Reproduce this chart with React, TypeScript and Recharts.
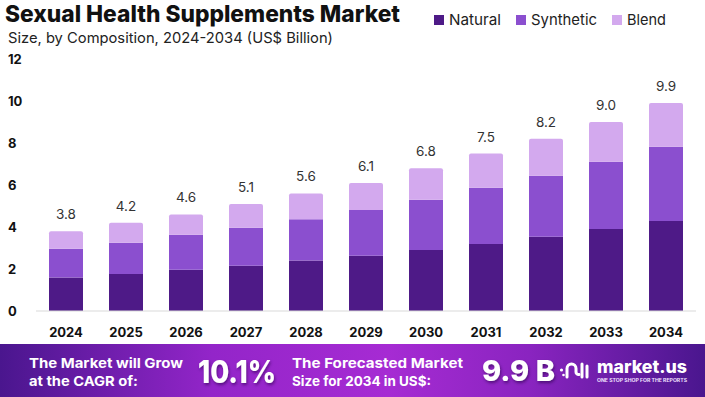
import React from "react";
import { BarChart, Bar, XAxis, YAxis, LabelList } from "recharts";

const years = ["2024", "2025", "2026", "2027", "2028", "2029", "2030", "2031", "2032", "2033", "2034"];
const natural = [1.6, 1.76, 1.97, 2.16, 2.4, 2.63, 2.9, 3.19, 3.54, 3.9, 4.29];
const synthetic = [1.37, 1.49, 1.66, 1.81, 1.97, 2.18, 2.4, 2.68, 2.9, 3.21, 3.53];
const blend = [0.83, 0.95, 0.97, 1.13, 1.23, 1.29, 1.5, 1.63, 1.76, 1.89, 2.08];
const totals = [3.8, 4.2, 4.6, 5.1, 5.6, 6.1, 6.8, 7.5, 8.2, 9.0, 9.9];
const yTicks = [0, 2, 4, 6, 8, 10, 12];

const data = years.map((y, i) => ({
  year: y,
  natural: natural[i],
  synthetic: synthetic[i],
  blend: blend[i],
  total: totals[i],
}));

const C_NAT = "#4e1a87";
const C_SYN = "#8b4fcf";
const C_BLE = "#d3a9ee";
const FONT = "Inter, 'Noto Sans', sans-serif";

const YTick = (props: any) => {
  const { y, payload } = props;
  return (
    <text x={8} y={y} dy={4.5} fontSize={13} fontWeight={700} fill="#111" fontFamily={FONT}>
      {payload.value}
    </text>
  );
};

const XTick = (props: any) => {
  const { x, payload } = props;
  return (
    <text x={x} y={337} textAnchor="middle" fontSize={13} fontWeight={700} fill="#111" fontFamily={FONT}>
      {payload.value}
    </text>
  );
};

export default function App() {
  return (
    <div style={{ position: "absolute", left: 0, top: 0, width: 705, height: 397, background: "#fff", overflow: "hidden" }}>
      <div style={{ position: "absolute", left: 0, top: 0 }}>
        <BarChart width={705} height={345} data={data} margin={{ top: 59, right: 9, left: 0, bottom: 0 }} barSize={34}>
          <XAxis
            dataKey="year"
            height={34}
            tick={<XTick />}
            tickLine={false}
            axisLine={{ stroke: "#d9d9d9" }}
            interval={0}
          />
          <YAxis width={36} domain={[0, 12]} ticks={yTicks} tick={<YTick />} tickLine={false} axisLine={false} interval={0} />
          <Bar dataKey="natural" stackId="a" fill={C_NAT} isAnimationActive={false} />
          <Bar dataKey="synthetic" stackId="a" fill={C_SYN} isAnimationActive={false} />
          <Bar dataKey="blend" stackId="a" fill={C_BLE} radius={[2, 2, 0, 0]} isAnimationActive={false}>
            <LabelList
              dataKey="total"
              position="top"
              offset={12}
              formatter={(v: any) => Number(v).toFixed(1)}
              fill="#333"
              fontSize={13.5}
              fontFamily={FONT}
            />
          </Bar>
        </BarChart>
      </div>
      <svg width={705} height={397} style={{ position: "absolute", left: 0, top: 0, pointerEvents: "none" }} fontFamily={FONT}>
        <defs>
          <linearGradient id="bannerGrad" x1="0" y1="0" x2="1" y2="0">
            <stop offset="0" stopColor="#4a168e" />
            <stop offset="0.3" stopColor="#9325c9" />
            <stop offset="0.55" stopColor="#a62bd3" />
            <stop offset="0.75" stopColor="#8a24c0" />
            <stop offset="1" stopColor="#4a168e" />
          </linearGradient>
          <filter id="shadow" x="-20%" y="-20%" width="140%" height="160%">
            <feDropShadow dx="1" dy="2" stdDeviation="1.5" floodColor="#2a0050" floodOpacity="0.6" />
          </filter>
        </defs>
        <text x={5} y={22} fontSize={23} fontWeight={800} fill="#111" textLength={395} lengthAdjust="spacingAndGlyphs">
          Sexual Health Supplements Market
        </text>
        <text x={8} y={42.5} fontSize={14.5} fontWeight={400} fill="#222" textLength={325} lengthAdjust="spacingAndGlyphs">
          Size, by Composition, 2024-2034 (US$ Billion)
        </text>
        <rect x={434} y={15} width={10} height={10} fill={C_NAT} />
        <text x={449} y={25.3} fontSize={15} fill="#222" textLength={52} lengthAdjust="spacingAndGlyphs">Natural</text>
        <rect x={516} y={15} width={10} height={10} fill={C_SYN} />
        <text x={531} y={25.3} fontSize={15} fill="#222" textLength={66} lengthAdjust="spacingAndGlyphs">Synthetic</text>
        <rect x={612} y={15} width={10} height={10} fill={C_BLE} />
        <text x={627} y={25.3} fontSize={15} fill="#222" textLength={39} lengthAdjust="spacingAndGlyphs">Blend</text>

        <rect x={0} y={344} width={705} height={53} fill="url(#bannerGrad)" />
        <text x={29} y={367.8} fontSize={13.5} fontWeight={700} fill="#fff" textLength={154} lengthAdjust="spacingAndGlyphs">The Market will Grow</text>
        <text x={29} y={385.5} fontSize={13.5} fontWeight={700} fill="#fff" textLength={109} lengthAdjust="spacingAndGlyphs">at the CAGR of:</text>
        <text x={198} y={383} fontSize={31} fontWeight={800} fill="#fff" filter="url(#shadow)" textLength={78} lengthAdjust="spacingAndGlyphs">10.1%</text>
        <text x={292} y={367.8} fontSize={13.5} fontWeight={700} fill="#fff" textLength={171} lengthAdjust="spacingAndGlyphs">The Forecasted Market</text>
        <text x={292} y={385.5} fontSize={13.5} fontWeight={700} fill="#fff" textLength={139} lengthAdjust="spacingAndGlyphs">Size for 2034 in US$:</text>
        <text x={482} y={381} fontSize={29} fontWeight={800} fill="#fff" filter="url(#shadow)" textLength={73} lengthAdjust="spacingAndGlyphs">9.9 B</text>
        <g stroke="#fff" strokeWidth={3} fill="none" strokeLinecap="round">
          <circle cx={561.5} cy={370} r={1.6} fill="#fff" stroke="none" />
          <circle cx={563.5} cy={375} r={1.3} fill="#fff" stroke="none" />
          <path d="M567 377 L567 368.5 A4.5 4.5 0 0 1 576 368.5 L576 372 A2.5 2.5 0 0 0 579 374.5" />
          <path d="M582 364 L582 377" />
          <path d="M587 366 L587 377" />
        </g>
        <text x={597} y={372.5} fontSize={17} fontWeight={800} fill="#fff" textLength={90} lengthAdjust="spacingAndGlyphs">market.us</text>
        <text x={597} y={382} fontSize={4.5} fontWeight={700} fill="#f0e0ff" textLength={90} lengthAdjust="spacingAndGlyphs">ONE STOP SHOP FOR THE REPORTS</text>
      </svg>
    </div>
  );
}
